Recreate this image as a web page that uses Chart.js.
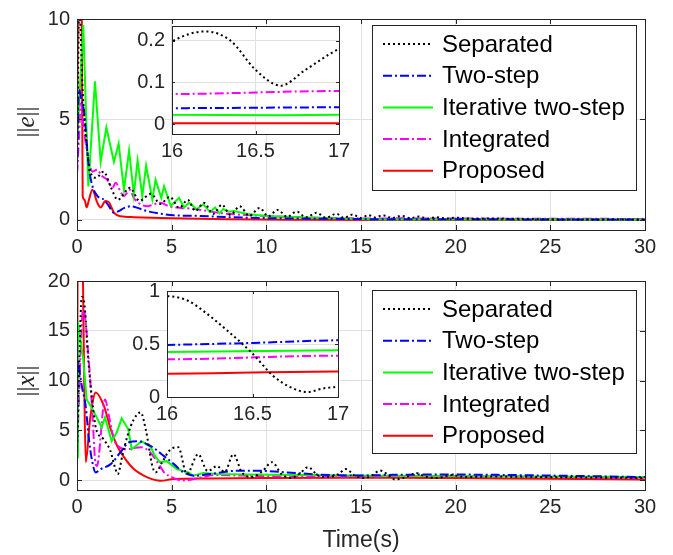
<!DOCTYPE html>
<html>
<head>
<meta charset="utf-8">
<script src="https://cdn.jsdelivr.net/npm/chart.js@4.4.1/dist/chart.umd.min.js"></script>
<style>
body { margin: 0; background: #fff; }
#wrap { position: relative; width: 673px; height: 555px; }
canvas { position: absolute; left: 0; top: 0; }
</style>
</head>
<body>
<div id="wrap">
<canvas id="eMain" width="673" height="555"></canvas>
<canvas id="xMain" width="673" height="555"></canvas>
<canvas id="eZoom" width="673" height="555"></canvas>
<canvas id="xZoom" width="673" height="555"></canvas>
</div>
<script>
// tick labels
const timeTicks = [0, 5, 10, 15, 20, 25, 30];
const eTicks = [0, 5, 10];
const xTicks = [0, 5, 10, 15, 20];
const zoomTimeTicks = [16, 16.5, 17];
const eZoomTicks = [0, 0.1, 0.2];
const xZoomTicks = [0, 0.5, 1];

const names = ["Separated", "Two-step", "Iterative two-step", "Integrated", "Proposed"];

// ||e|| series
const tSepE = [0, 0.12, 0.3, 0.5, 0.7, 1.0, 1.4, 1.8, 2.15, 2.8, 3.3, 3.9, 4.4, 4.9, 5.4, 5.85, 6.25, 6.7, 7.2, 7.65, 8.1, 8.6, 9.1, 9.65, 10.1, 10.6, 11.1, 11.6, 12.1, 12.65, 13.15, 13.7, 14.1, 14.55, 15.0, 15.4, 15.75, 16.0, 16.2, 16.35, 16.5, 16.65, 16.8, 17.0, 17.15, 17.6, 18.05, 18.5, 19.0, 19.5, 20, 21, 22, 25, 30];
const sepE = [2.3, 10.5, 6.4, 3.8, 2.4, 2.1, 2.4, 1.6, 1.0, 1.6, 0.95, 1.3, 0.8, 1.15, 0.6, 1.0, 0.45, 0.85, 0.3, 0.76, 0.25, 0.68, 0.2, 0.6, 0.18, 0.5, 0.15, 0.42, 0.13, 0.36, 0.11, 0.31, 0.1, 0.27, 0.1, 0.24, 0.12, 0.198, 0.222, 0.2, 0.13, 0.092, 0.13, 0.18, 0.2, 0.09, 0.17, 0.07, 0.14, 0.06, 0.11, 0.06, 0.07, 0.03, 0.015];
const tTwoE = [0, 0.1, 0.25, 0.37, 0.63, 0.81, 1.07, 1.43, 1.69, 1.95, 2.2, 2.5, 2.85, 3.2, 3.7, 4.4, 5.1, 6.5, 8, 10, 13, 16, 17, 20, 25, 30];
const twoE = [2.3, 6.5, 5.9, 5.4, 2.6, 1.7, 1.2, 1.0, 0.68, 0.36, 0.44, 0.6, 0.68, 0.6, 0.44, 0.31, 0.23, 0.2, 0.14, 0.09, 0.06, 0.038, 0.04, 0.035, 0.025, 0.02];
const tIterE = [0, 0.33, 0.6, 0.95, 1.25, 1.55, 1.95, 2.2, 2.48, 2.75, 3.0, 3.2, 3.45, 3.65, 3.98, 4.15, 4.45, 4.6, 4.95, 5.39, 5.65, 5.92, 6.32, 6.67, 7.03, 7.29, 7.52, 7.73, 8.0, 8.3, 9, 10, 12, 14, 16, 16.65, 17, 20, 25, 30];
const iterE = [3.8, 9.7, 1.67, 6.9, 2.9, 4.6, 2.9, 3.8, 1.5, 3.45, 1.26, 2.96, 1.18, 2.7, 1.02, 2.0, 1.1, 1.67, 0.7, 1.1, 0.62, 0.86, 0.53, 0.78, 0.39, 0.62, 0.33, 0.55, 0.41, 0.45, 0.3, 0.2, 0.12, 0.07, 0.022, 0.021, 0.022, 0.02, 0.018, 0.015];
const tIntE = [0, 0.1, 0.2, 0.37, 0.63, 0.81, 1.07, 1.3, 1.6, 1.87, 2.04, 2.3, 2.48, 2.8, 3.0, 3.36, 3.72, 4.05, 4.4, 4.86, 5.5, 6.2, 7.5, 10, 13, 16, 17, 20, 25, 30];
const intE = [2.3, 4, 5.8, 4.4, 2.96, 2.4, 2.5, 2.2, 2.0, 1.6, 1.85, 1.4, 1.2, 1.5, 1.1, 0.78, 0.68, 0.78, 0.86, 0.68, 0.6, 0.55, 0.35, 0.2, 0.11, 0.072, 0.079, 0.07, 0.06, 0.05];
const tPropE = [0, 0.05, 0.15, 0.25, 0.3, 0.4, 0.51, 0.63, 0.81, 1.07, 1.25, 1.5, 1.7, 1.95, 2.3, 3, 5, 8, 12, 16, 17, 20, 30];
const propE = [2.3, 10.5, 12, 10.5, 1.2, 1.0, 0.62, 1.0, 1.5, 0.86, 0.62, 0.94, 0.86, 0.36, 0.18, 0.14, 0.08, 0.03, 0.01, 0.002, 0.002, 0.002, 0.001];

// ||x|| series
const tSepX = [0, 0.1, 0.25, 0.37, 0.6, 0.86, 1.0, 1.4, 1.75, 2.0, 2.15, 2.4, 2.66, 3.0, 3.36, 3.63, 3.98, 4.15, 4.5, 4.9, 5.35, 5.8, 6.4, 6.9, 7.4, 7.8, 8.26, 8.7, 9.2, 9.8, 10.3, 10.8, 11.3, 11.8, 12.2, 12.7, 13.3, 13.8, 14.2, 14.7, 15.2, 15.6, 16.0, 16.12, 16.23, 16.35, 16.5, 16.62, 16.72, 16.82, 16.91, 17.0, 17.4, 17.9, 18.4, 19.0, 19.8, 20.5, 22, 25, 30];
const sepX = [2.3, 10, 18.4, 18, 12, 7, 5.2, 4.1, 3.0, 1.3, 0.6, 2.5, 4.4, 6.1, 6.8, 5.1, 1.4, 0.77, 1.8, 3.0, 3.3, 0.6, 2.6, 0.9, 1.4, 0.8, 2.6, 0.8, 0.3, 0.9, 1.8, 0.6, 0.2, 0.7, 1.3, 0.5, 0.3, 0.6, 1.1, 0.4, 0.2, 0.5, 0.95, 0.91, 0.79, 0.63, 0.41, 0.2, 0.094, 0.047, 0.08, 0.1, 0.3, 0.7, 0.35, 0.2, 0.5, 0.3, 0.35, 0.3, 0.2];
const tTwoX = [0, 0.05, 0.1, 0.25, 0.46, 0.63, 0.81, 0.99, 1.25, 1.78, 2.3, 2.75, 3.18, 3.9, 4.6, 5.12, 5.6, 6.23, 7.0, 8.44, 9.49, 11.1, 12.8, 15.3, 16, 16.5, 17, 20, 25, 30];
const twoX = [2.3, 12, 11.4, 9.5, 7.4, 4.1, 1.8, 0.77, 1.1, 1.6, 2.8, 3.8, 3.9, 3.4, 2.4, 1.6, 0.8, 0.43, 0.6, 0.93, 0.93, 0.77, 0.55, 0.45, 0.49, 0.51, 0.535, 0.55, 0.45, 0.3];
const tIterX = [0, 0.05, 0.33, 0.51, 0.8, 1.04, 1.3, 1.48, 1.83, 2.1, 2.36, 2.71, 2.89, 3.42, 3.9, 4.12, 4.38, 4.74, 5.27, 5.88, 6.15, 6.67, 7.38, 9, 12, 15, 16, 17, 20, 25, 30];
const iterX = [2.3, 15.9, 12.1, 8.1, 7.2, 6.3, 5.3, 6.3, 3.9, 4.8, 6.2, 5.1, 3.1, 3.9, 3.3, 2.4, 1.8, 1.9, 1.1, 0.77, 0.43, 0.7, 0.6, 0.55, 0.5, 0.45, 0.425, 0.44, 0.4, 0.35, 0.3];
const tIntX = [0, 0.1, 0.33, 0.63, 0.81, 0.95, 1.05, 1.48, 1.69, 1.95, 2.18, 2.6, 3.36, 3.86, 4.38, 4.6, 5.0, 5.6, 6.67, 7.2, 10, 15, 16, 17, 20, 25, 30];
const intX = [2.3, 8, 17.3, 11.8, 6.8, 2.1, 1.4, 8.1, 6.4, 4.1, 3.4, 3.1, 3.3, 2.8, 1.4, 0.77, 0.3, -0.05, 0.3, 0.5, 0.4, 0.36, 0.356, 0.39, 0.35, 0.3, 0.2];
const tPropX = [0, 0.03, 0.1, 0.3, 0.38, 0.46, 0.69, 0.99, 1.43, 1.78, 2.13, 2.48, 3.0, 3.72, 4.42, 5.1, 7, 10, 14, 16, 17, 20, 25, 30];
const propX = [2.1, 21, 22, 21, 10, 1.8, 6.1, 8.8, 7.4, 5.1, 3.4, 2.3, 1.1, 0.27, -0.07, 0.1, 0.15, 0.2, 0.22, 0.22, 0.24, 0.2, 0.12, 0.05];

// styles
const colors = ["#000000", "#0000ff", "#00ff00", "#ff00ff", "#ff0000"];
const dashes = [[2, 3], [9, 3, 2, 3], [], [9, 3, 2, 3], []];
const widths = [2, 2, 2, 2, 2];
const axisColor = "#262626";
const gridColor = "#e0e0e0";
const sans = "'Liberation Sans', Arial, sans-serif";

Chart.defaults.font.family = sans;

function makeSets(ts, vs) {
    return names.map((n, i) => ({
        label: n,
        data: ts[i].map((t, k) => ({ x: t, y: vs[i][k] })),
        borderColor: colors[i],
        borderWidth: widths[i],
        borderDash: dashes[i],
        pointRadius: 0,
        cubicInterpolationMode: i === 2 ? "default" : "monotone",
        tension: 0
    }));
}

const frame = {
    id: "frame",
    beforeDraw(chart, args, o) {
        if (!o.fill) return;
        const a = chart.chartArea;
        chart.ctx.save();
        chart.ctx.fillStyle = "#fff";
        chart.ctx.fillRect(a.left, a.top, a.right - a.left, a.bottom - a.top);
        chart.ctx.restore();
    },
    afterDatasetsDraw(chart, args, o) {
        const a = chart.chartArea, ctx = chart.ctx;
        const xs = chart.scales.x, ys = chart.scales.y;
        const len = o.tick || 5;
        ctx.save();
        ctx.strokeStyle = axisColor;
        ctx.lineWidth = 1;
        ctx.beginPath();
        xs.ticks.forEach(t => {
            const p = Math.round(xs.getPixelForValue(t.value)) + 0.5;
            ctx.moveTo(p, a.bottom); ctx.lineTo(p, a.bottom - len);
            ctx.moveTo(p, a.top); ctx.lineTo(p, a.top + len);
        });
        ys.ticks.forEach(t => {
            const p = Math.round(ys.getPixelForValue(t.value)) + 0.5;
            ctx.moveTo(a.left, p); ctx.lineTo(a.left + len, p);
            ctx.moveTo(a.right, p); ctx.lineTo(a.right - len, p);
        });
        ctx.stroke();
        ctx.strokeRect(Math.round(a.left) + 0.5, Math.round(a.top) + 0.5, Math.round(a.right - a.left), Math.round(a.bottom - a.top));
        ctx.restore();
    }
};

const legendBox = {
    id: "legendBox",
    afterDraw(chart, args, o) {
        if (!o.box) return;
        const ctx = chart.ctx, b = o.box;
        ctx.save();
        ctx.fillStyle = "#fff";
        ctx.fillRect(b[0], b[1], b[2], b[3]);
        ctx.strokeStyle = axisColor;
        ctx.lineWidth = 1;
        ctx.strokeRect(b[0] + 0.5, b[1] + 0.5, b[2], b[3]);
        ctx.font = "24px " + sans;
        ctx.textBaseline = "middle";
        chart.data.datasets.forEach((ds, i) => {
            const y = b[1] + 19 + i * 31.7;
            ctx.strokeStyle = ds.borderColor;
            ctx.lineWidth = ds.borderWidth;
            ctx.setLineDash(ds.borderDash);
            ctx.beginPath();
            ctx.moveTo(b[0] + 11, y);
            ctx.lineTo(b[0] + 61, y);
            ctx.stroke();
            ctx.setLineDash([]);
            ctx.fillStyle = "#000";
            ctx.fillText(ds.label, b[0] + 70, y + 1);
        });
        ctx.restore();
    }
};

const titles = {
    id: "titles",
    afterDraw(chart, args, o) {
        const ctx = chart.ctx;
        ctx.save();
        ctx.fillStyle = axisColor;
        ctx.textBaseline = "middle";
        if (o.yName) {
            const bar = "25px 'Liberation Serif', serif";
            const ital = "italic 25px 'Liberation Serif', serif";
            ctx.font = bar;
            const wb = ctx.measureText("||").width;
            ctx.font = ital;
            const wi = ctx.measureText(o.yName).width;
            ctx.translate(o.yPos[0], o.yPos[1]);
            ctx.rotate(-Math.PI / 2);
            let x = -(2 * wb + wi) / 2;
            ctx.font = bar; ctx.fillText("||", x, 0); x += wb;
            ctx.font = ital; ctx.fillText(o.yName, x, 0); x += wi;
            ctx.font = bar; ctx.fillText("||", x, 0);
            ctx.setTransform(1, 0, 0, 1, 0, 0);
        }
        if (o.xName) {
            ctx.font = "23px " + sans;
            ctx.textAlign = "center";
            ctx.fillText(o.xName, o.xPos[0], o.xPos[1]);
        }
        ctx.restore();
    }
};

function axis(min, max, ticks, size, pad, vertical) {
    return {
        type: "linear",
        min: min,
        max: max,
        afterBuildTicks: s => { s.ticks = ticks.map(v => ({ value: v })); },
        afterFit: s => { if (vertical) s.width = size; else s.height = size; },
        grid: { color: gridColor, drawTicks: false },
        border: { display: false },
        ticks: { color: axisColor, font: { size: 20 }, padding: pad, maxRotation: 0, callback: v => String(v) }
    };
}

// area = [left, top, right, bottom] of plot box in page pixels
function build(id, sets, xr, yr, area, extra) {
    const yw = 50, xh = 30;
    return new Chart(document.getElementById(id), {
        type: "line",
        data: { datasets: sets },
        plugins: [frame, legendBox, titles],
        options: {
            responsive: false,
            animation: false,
            devicePixelRatio: 1,
            events: [],
            layout: { padding: { left: area[0] - yw, top: area[1], right: 673 - area[2], bottom: 555 - area[3] - xh } },
            scales: {
                x: axis(xr[0], xr[1], xr[2], xh, 5, false),
                y: axis(yr[0], yr[1], yr[2], yw, 7, true)
            },
            plugins: Object.assign({ legend: { display: false }, tooltip: { enabled: false } }, extra)
        }
    });
}

const eSeries = [[tSepE, tTwoE, tIterE, tIntE, tPropE], [sepE, twoE, iterE, intE, propE]];
const xSeries = [[tSepX, tTwoX, tIterX, tIntX, tPropX], [sepX, twoX, iterX, intX, propX]];

build("eMain", makeSets(eSeries[0], eSeries[1]), [0, 30, timeTicks], [-0.5, 10, eTicks], [77, 15, 645, 230], {
    frame: { tick: 5 },
    legendBox: { box: [372, 25, 264, 165] },
    titles: { yName: "e", yPos: [27, 122] }
});
build("xMain", makeSets(xSeries[0], xSeries[1]), [0, 30, timeTicks], [-1, 20, xTicks], [77, 281, 645, 490], {
    frame: { tick: 5 },
    legendBox: { box: [372, 290, 264, 163] },
    titles: { yName: "x", yPos: [27, 381], xName: "Time(s)", xPos: [361, 541] }
});
build("eZoom", makeSets(eSeries[0], eSeries[1]), [16, 17, zoomTimeTicks], [-0.024, 0.235, eZoomTicks], [172, 26, 339, 134], {
    frame: { fill: true, tick: 3 }
});
build("xZoom", makeSets(xSeries[0], xSeries[1]), [16, 17, zoomTimeTicks], [0, 1, xZoomTicks], [167, 291, 338, 397], {
    frame: { fill: true, tick: 3 }
});
</script>
</body>
</html>
